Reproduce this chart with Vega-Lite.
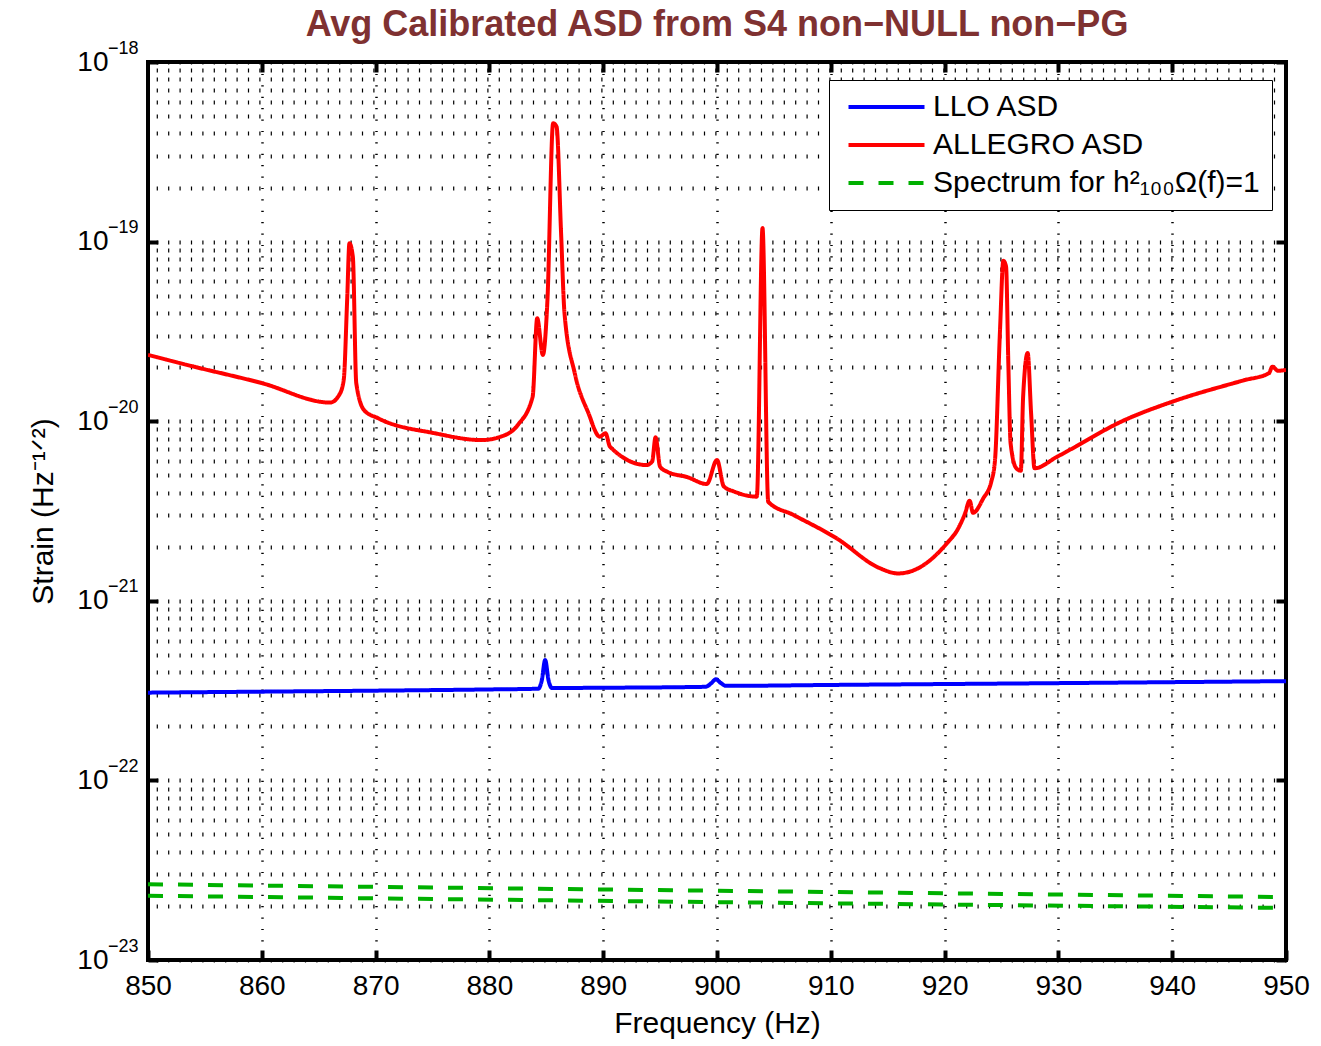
{
  "$schema": "https://vega.github.io/schema/vega-lite/v6.json",
  "autosize": {"type": "none"},
  "padding": {"left": 148, "top": 62, "right": 35, "bottom": 86},
  "width": 1138,
  "height": 898,
  "background": "white",
  "title": {"text": "Avg Calibrated ASD from S4 non−NULL non−PG", "fontSize": 36, "fontWeight": "bold", "color": "#7f3131", "font": "Liberation Sans", "anchor": "middle", "offset": -5},
  "config": {
    "view": {"stroke": "black", "strokeWidth": 4},
    "font": "Liberation Sans"
  },
  "data": {"values": [
    {"f": 850, "asd": 3.08e-22, "series": "LLO ASD", "line": "LLO"},
    {"f": 860, "asd": 3.12e-22, "series": "LLO ASD", "line": "LLO"},
    {"f": 870, "asd": 3.16e-22, "series": "LLO ASD", "line": "LLO"},
    {"f": 880, "asd": 3.21e-22, "series": "LLO ASD", "line": "LLO"},
    {"f": 884.3, "asd": 3.24e-22, "series": "LLO ASD", "line": "LLO"},
    {"f": 884.6, "asd": 3.6e-22, "series": "LLO ASD", "line": "LLO"},
    {"f": 884.9, "asd": 4.68e-22, "series": "LLO ASD", "line": "LLO"},
    {"f": 885.2, "asd": 3.6e-22, "series": "LLO ASD", "line": "LLO"},
    {"f": 885.5, "asd": 3.27e-22, "series": "LLO ASD", "line": "LLO"},
    {"f": 890, "asd": 3.28e-22, "series": "LLO ASD", "line": "LLO"},
    {"f": 899.0, "asd": 3.32e-22, "series": "LLO ASD", "line": "LLO"},
    {"f": 899.5, "asd": 3.48e-22, "series": "LLO ASD", "line": "LLO"},
    {"f": 899.9, "asd": 3.66e-22, "series": "LLO ASD", "line": "LLO"},
    {"f": 900.3, "asd": 3.5e-22, "series": "LLO ASD", "line": "LLO"},
    {"f": 900.8, "asd": 3.36e-22, "series": "LLO ASD", "line": "LLO"},
    {"f": 910, "asd": 3.40e-22, "series": "LLO ASD", "line": "LLO"},
    {"f": 930, "asd": 3.48e-22, "series": "LLO ASD", "line": "LLO"},
    {"f": 950, "asd": 3.57e-22, "series": "LLO ASD", "line": "LLO"},

    {"f": 850, "asd": 2.34e-20, "series": "ALLEGRO ASD", "line": "ALLEGRO"},
    {"f": 853.8, "asd": 2.03e-20, "series": "ALLEGRO ASD", "line": "ALLEGRO"},
    {"f": 860, "asd": 1.63e-20, "series": "ALLEGRO ASD", "line": "ALLEGRO"},
    {"f": 866.0, "asd": 1.27e-20, "series": "ALLEGRO ASD", "line": "ALLEGRO"},
    {"f": 866.8, "asd": 1.40e-20, "series": "ALLEGRO ASD", "line": "ALLEGRO"},
    {"f": 867.2, "asd": 1.70e-20, "series": "ALLEGRO ASD", "line": "ALLEGRO"},
    {"f": 867.5, "asd": 4.73e-20, "series": "ALLEGRO ASD", "line": "ALLEGRO"},
    {"f": 867.7, "asd": 9.79e-20, "series": "ALLEGRO ASD", "line": "ALLEGRO"},
    {"f": 868.0, "asd": 8.24e-20, "series": "ALLEGRO ASD", "line": "ALLEGRO"},
    {"f": 868.3, "asd": 1.63e-20, "series": "ALLEGRO ASD", "line": "ALLEGRO"},
    {"f": 869.0, "asd": 1.15e-20, "series": "ALLEGRO ASD", "line": "ALLEGRO"},
    {"f": 870.2, "asd": 1.04e-20, "series": "ALLEGRO ASD", "line": "ALLEGRO"},
    {"f": 875.2, "asd": 8.57e-21, "series": "ALLEGRO ASD", "line": "ALLEGRO"},
    {"f": 879.3, "asd": 7.85e-21, "series": "ALLEGRO ASD", "line": "ALLEGRO"},
    {"f": 881.0, "asd": 8.20e-21, "series": "ALLEGRO ASD", "line": "ALLEGRO"},
    {"f": 882.5, "asd": 9.53e-21, "series": "ALLEGRO ASD", "line": "ALLEGRO"},
    {"f": 883.8, "asd": 1.37e-20, "series": "ALLEGRO ASD", "line": "ALLEGRO"},
    {"f": 884.2, "asd": 3.74e-20, "series": "ALLEGRO ASD", "line": "ALLEGRO"},
    {"f": 884.7, "asd": 2.34e-20, "series": "ALLEGRO ASD", "line": "ALLEGRO"},
    {"f": 885.1, "asd": 4.73e-20, "series": "ALLEGRO ASD", "line": "ALLEGRO"},
    {"f": 885.6, "asd": 4.56e-19, "series": "ALLEGRO ASD", "line": "ALLEGRO"},
    {"f": 885.9, "asd": 4.37e-19, "series": "ALLEGRO ASD", "line": "ALLEGRO"},
    {"f": 886.3, "asd": 1.11e-19, "series": "ALLEGRO ASD", "line": "ALLEGRO"},
    {"f": 886.6, "asd": 3.99e-20, "series": "ALLEGRO ASD", "line": "ALLEGRO"},
    {"f": 887.5, "asd": 1.85e-20, "series": "ALLEGRO ASD", "line": "ALLEGRO"},
    {"f": 888.7, "asd": 1.11e-20, "series": "ALLEGRO ASD", "line": "ALLEGRO"},
    {"f": 889.7, "asd": 8.20e-21, "series": "ALLEGRO ASD", "line": "ALLEGRO"},
    {"f": 890.2, "asd": 8.57e-21, "series": "ALLEGRO ASD", "line": "ALLEGRO"},
    {"f": 890.6, "asd": 7.21e-21, "series": "ALLEGRO ASD", "line": "ALLEGRO"},
    {"f": 893.8, "asd": 5.70e-21, "series": "ALLEGRO ASD", "line": "ALLEGRO"},
    {"f": 894.3, "asd": 5.96e-21, "series": "ALLEGRO ASD", "line": "ALLEGRO"},
    {"f": 894.6, "asd": 8.13e-21, "series": "ALLEGRO ASD", "line": "ALLEGRO"},
    {"f": 895.0, "asd": 5.58e-21, "series": "ALLEGRO ASD", "line": "ALLEGRO"},
    {"f": 895.6, "asd": 5.24e-21, "series": "ALLEGRO ASD", "line": "ALLEGRO"},
    {"f": 897.4, "asd": 4.88e-21, "series": "ALLEGRO ASD", "line": "ALLEGRO"},
    {"f": 899.1, "asd": 4.47e-21, "series": "ALLEGRO ASD", "line": "ALLEGRO"},
    {"f": 900.0, "asd": 6.08e-21, "series": "ALLEGRO ASD", "line": "ALLEGRO"},
    {"f": 900.6, "asd": 4.33e-21, "series": "ALLEGRO ASD", "line": "ALLEGRO"},
    {"f": 901.5, "asd": 4.06e-21, "series": "ALLEGRO ASD", "line": "ALLEGRO"},
    {"f": 903.5, "asd": 3.80e-21, "series": "ALLEGRO ASD", "line": "ALLEGRO"},
    {"f": 904.0, "asd": 1.19e-19, "series": "ALLEGRO ASD", "line": "ALLEGRO"},
    {"f": 904.5, "asd": 3.56e-21, "series": "ALLEGRO ASD", "line": "ALLEGRO"},
    {"f": 906.7, "asd": 3.01e-21, "series": "ALLEGRO ASD", "line": "ALLEGRO"},
    {"f": 910.5, "asd": 2.23e-21, "series": "ALLEGRO ASD", "line": "ALLEGRO"},
    {"f": 914.3, "asd": 1.52e-21, "series": "ALLEGRO ASD", "line": "ALLEGRO"},
    {"f": 915.9, "asd": 1.42e-21, "series": "ALLEGRO ASD", "line": "ALLEGRO"},
    {"f": 917.3, "asd": 1.48e-21, "series": "ALLEGRO ASD", "line": "ALLEGRO"},
    {"f": 920.2, "asd": 2.09e-21, "series": "ALLEGRO ASD", "line": "ALLEGRO"},
    {"f": 921.2, "asd": 2.53e-21, "series": "ALLEGRO ASD", "line": "ALLEGRO"},
    {"f": 921.8, "asd": 3.07e-21, "series": "ALLEGRO ASD", "line": "ALLEGRO"},
    {"f": 922.2, "asd": 3.61e-21, "series": "ALLEGRO ASD", "line": "ALLEGRO"},
    {"f": 922.5, "asd": 3.09e-21, "series": "ALLEGRO ASD", "line": "ALLEGRO"},
    {"f": 923.4, "asd": 3.72e-21, "series": "ALLEGRO ASD", "line": "ALLEGRO"},
    {"f": 924.1, "asd": 4.60e-21, "series": "ALLEGRO ASD", "line": "ALLEGRO"},
    {"f": 924.43, "asd": 6.08e-21, "series": "ALLEGRO ASD", "line": "ALLEGRO"},
    {"f": 924.87, "asd": 3.22e-20, "series": "ALLEGRO ASD", "line": "ALLEGRO"},
    {"f": 925.16, "asd": 7.83e-20, "series": "ALLEGRO ASD", "line": "ALLEGRO"},
    {"f": 925.4, "asd": 7.26e-20, "series": "ALLEGRO ASD", "line": "ALLEGRO"},
    {"f": 925.6, "asd": 2.10e-20, "series": "ALLEGRO ASD", "line": "ALLEGRO"},
    {"f": 925.8, "asd": 7.53e-21, "series": "ALLEGRO ASD", "line": "ALLEGRO"},
    {"f": 926.3, "asd": 5.47e-21, "series": "ALLEGRO ASD", "line": "ALLEGRO"},
    {"f": 926.7, "asd": 5.30e-21, "series": "ALLEGRO ASD", "line": "ALLEGRO"},
    {"f": 926.9, "asd": 1.37e-20, "series": "ALLEGRO ASD", "line": "ALLEGRO"},
    {"f": 927.3, "asd": 2.40e-20, "series": "ALLEGRO ASD", "line": "ALLEGRO"},
    {"f": 927.6, "asd": 1.11e-20, "series": "ALLEGRO ASD", "line": "ALLEGRO"},
    {"f": 927.9, "asd": 5.47e-21, "series": "ALLEGRO ASD", "line": "ALLEGRO"},
    {"f": 929.9, "asd": 6.35e-21, "series": "ALLEGRO ASD", "line": "ALLEGRO"},
    {"f": 935.9, "asd": 1.02e-20, "series": "ALLEGRO ASD", "line": "ALLEGRO"},
    {"f": 940.1, "asd": 1.29e-20, "series": "ALLEGRO ASD", "line": "ALLEGRO"},
    {"f": 946.3, "asd": 1.69e-20, "series": "ALLEGRO ASD", "line": "ALLEGRO"},
    {"f": 948.5, "asd": 1.85e-20, "series": "ALLEGRO ASD", "line": "ALLEGRO"},
    {"f": 948.8, "asd": 2.01e-20, "series": "ALLEGRO ASD", "line": "ALLEGRO"},
    {"f": 949.3, "asd": 1.91e-20, "series": "ALLEGRO ASD", "line": "ALLEGRO"},
    {"f": 950, "asd": 1.93e-20, "series": "ALLEGRO ASD", "line": "ALLEGRO"},

    {"f": 850, "asd": 2.64e-23, "series": "Spectrum for h²₁₀₀Ω(f)=1", "line": "Omega A"},
    {"f": 900, "asd": 2.43e-23, "series": "Spectrum for h²₁₀₀Ω(f)=1", "line": "Omega A"},
    {"f": 950, "asd": 2.24e-23, "series": "Spectrum for h²₁₀₀Ω(f)=1", "line": "Omega A"},
    {"f": 850, "asd": 2.28e-23, "series": "Spectrum for h²₁₀₀Ω(f)=1", "line": "Omega B"},
    {"f": 900, "asd": 2.10e-23, "series": "Spectrum for h²₁₀₀Ω(f)=1", "line": "Omega B"},
    {"f": 950, "asd": 1.95e-23, "series": "Spectrum for h²₁₀₀Ω(f)=1", "line": "Omega B"}
  ]},
  "layer": [
    {
      "mark": {"type": "line", "strokeWidth": 4, "strokeJoin": "round", "interpolate": "monotone", "clip": true},
      "encoding": {
        "x": {"field": "f", "type": "quantitative", "scale": {"domain": [850, 950], "nice": false, "zero": false},
          "axis": {"values": [850, 860, 870, 880, 890, 900, 910, 920, 930, 940, 950], "title": "Frequency (Hz)", "titleFontSize": 30, "titleFontWeight": "normal", "titleColor": "black", "titlePadding": 8,
            "labelFontSize": 28, "labelColor": "black", "labelPadding": 22, "labelFlush": false,
            "grid": true, "gridDash": [1.2, 10.2], "gridWidth": 2.5, "gridColor": "black", "gridOpacity": 1,
            "tickSize": -10, "tickWidth": 4, "tickColor": "black", "domain": false}},
        "y": {"field": "asd", "type": "quantitative", "scale": {"type": "log", "domain": [1e-23, 1e-18], "nice": false},
          "axis": {"orient": "left", "values": [1e-23, 1e-22, 1e-21, 1e-20, 1e-19, 1e-18],
            "labelExpr": "'10'",
            "title": "Strain (Hz⁻¹ᐟ²)", "titleFontSize": 30, "titleFontWeight": "normal", "titleColor": "black", "titlePadding": 18,
            "labelFontSize": 28, "labelColor": "black", "labelPadding": 50, "labelFlush": false, "labelBaseline": "middle",
            "grid": false, "tickSize": -10, "tickWidth": 4, "tickColor": "black", "domain": false}},
        "color": {"field": "series", "type": "nominal",
          "scale": {"domain": ["LLO ASD", "ALLEGRO ASD", "Spectrum for h²₁₀₀Ω(f)=1"], "range": ["#0000ff", "#ff0000", "#00b000"]},
          "legend": {"orient": "none", "legendX": 681, "legendY": 18, "title": null, "labelFontSize": 30, "labelColor": "black",
            "symbolType": "M-3.04,0H3.04", "symbolSize": 625, "symbolStrokeWidth": 4, "symbolOffset": 30.5, "strokeColor": "black", "fillColor": "white",
            "padding": 12, "rowPadding": 8, "labelOffset": 31.5, "labelLimit": 500}},
        "strokeDash": {"field": "series", "type": "nominal",
          "scale": {"domain": ["LLO ASD", "ALLEGRO ASD", "Spectrum for h²₁₀₀Ω(f)=1"], "range": [[1, 0], [1, 0], [15, 15]]}},
        "detail": {"field": "line", "type": "nominal"}
      }
    },
    {
      "mark": {"type": "line", "opacity": 0},
      "encoding": {
        "x": {"field": "f", "type": "quantitative",
          "axis": {"orient": "top", "values": [860, 870, 880, 890, 900, 910, 920, 930, 940], "labels": false, "title": null, "grid": false,
            "tickSize": -10, "tickWidth": 4, "tickColor": "black", "domain": false}},
        "y": {"field": "asd", "type": "quantitative",
          "axis": {"orient": "right", "labels": false, "title": null, "domain": false,
            "values": [1e-23, 2e-23, 3e-23, 4e-23, 5e-23, 6e-23, 7e-23, 8e-23, 9e-23, 1e-22, 2e-22, 3e-22, 4e-22, 5e-22, 6e-22, 7e-22, 8e-22, 9e-22, 1e-21, 2e-21, 3e-21, 4e-21, 5e-21, 6e-21, 7e-21, 8e-21, 9e-21, 1e-20, 2e-20, 3e-20, 4e-20, 5e-20, 6e-20, 7e-20, 8e-20, 9e-20, 1e-19, 2e-19, 3e-19, 4e-19, 5e-19, 6e-19, 7e-19, 8e-19, 9e-19, 1e-18],
            "grid": true, "gridDash": [1.2, 10.2], "gridWidth": 4, "gridColor": "black", "gridOpacity": 1,
            "tickSize": -10, "tickWidth": 4, "tickColor": "black",
            "tickOpacity": {"condition": {"test": "abs(log(datum.value)/LN10 - round(log(datum.value)/LN10)) < 0.01", "value": 1}, "value": 0}}}
      }
    },
    {
      "mark": {"type": "line", "opacity": 0},
      "encoding": {
        "x": {"field": "f", "type": "quantitative", "axis": null},
        "y": {"field": "asd", "type": "quantitative",
          "axis": {"orient": "left", "values": [1e-23, 1e-22, 1e-21, 1e-20, 1e-19, 1e-18],
            "labelExpr": "['−18','−19','−20','−21','−22','−23'][-18 - round(log(datum.value)/LN10)]",
            "title": null, "labelFontSize": 18, "labelColor": "black", "labelPadding": 10, "labelOffset": -14, "labelBaseline": "middle", "labelFlush": false,
            "grid": false, "ticks": false, "domain": false}}
      }
    }
  ],
  "resolve": {"axis": {"x": "independent", "y": "independent"}}
}
